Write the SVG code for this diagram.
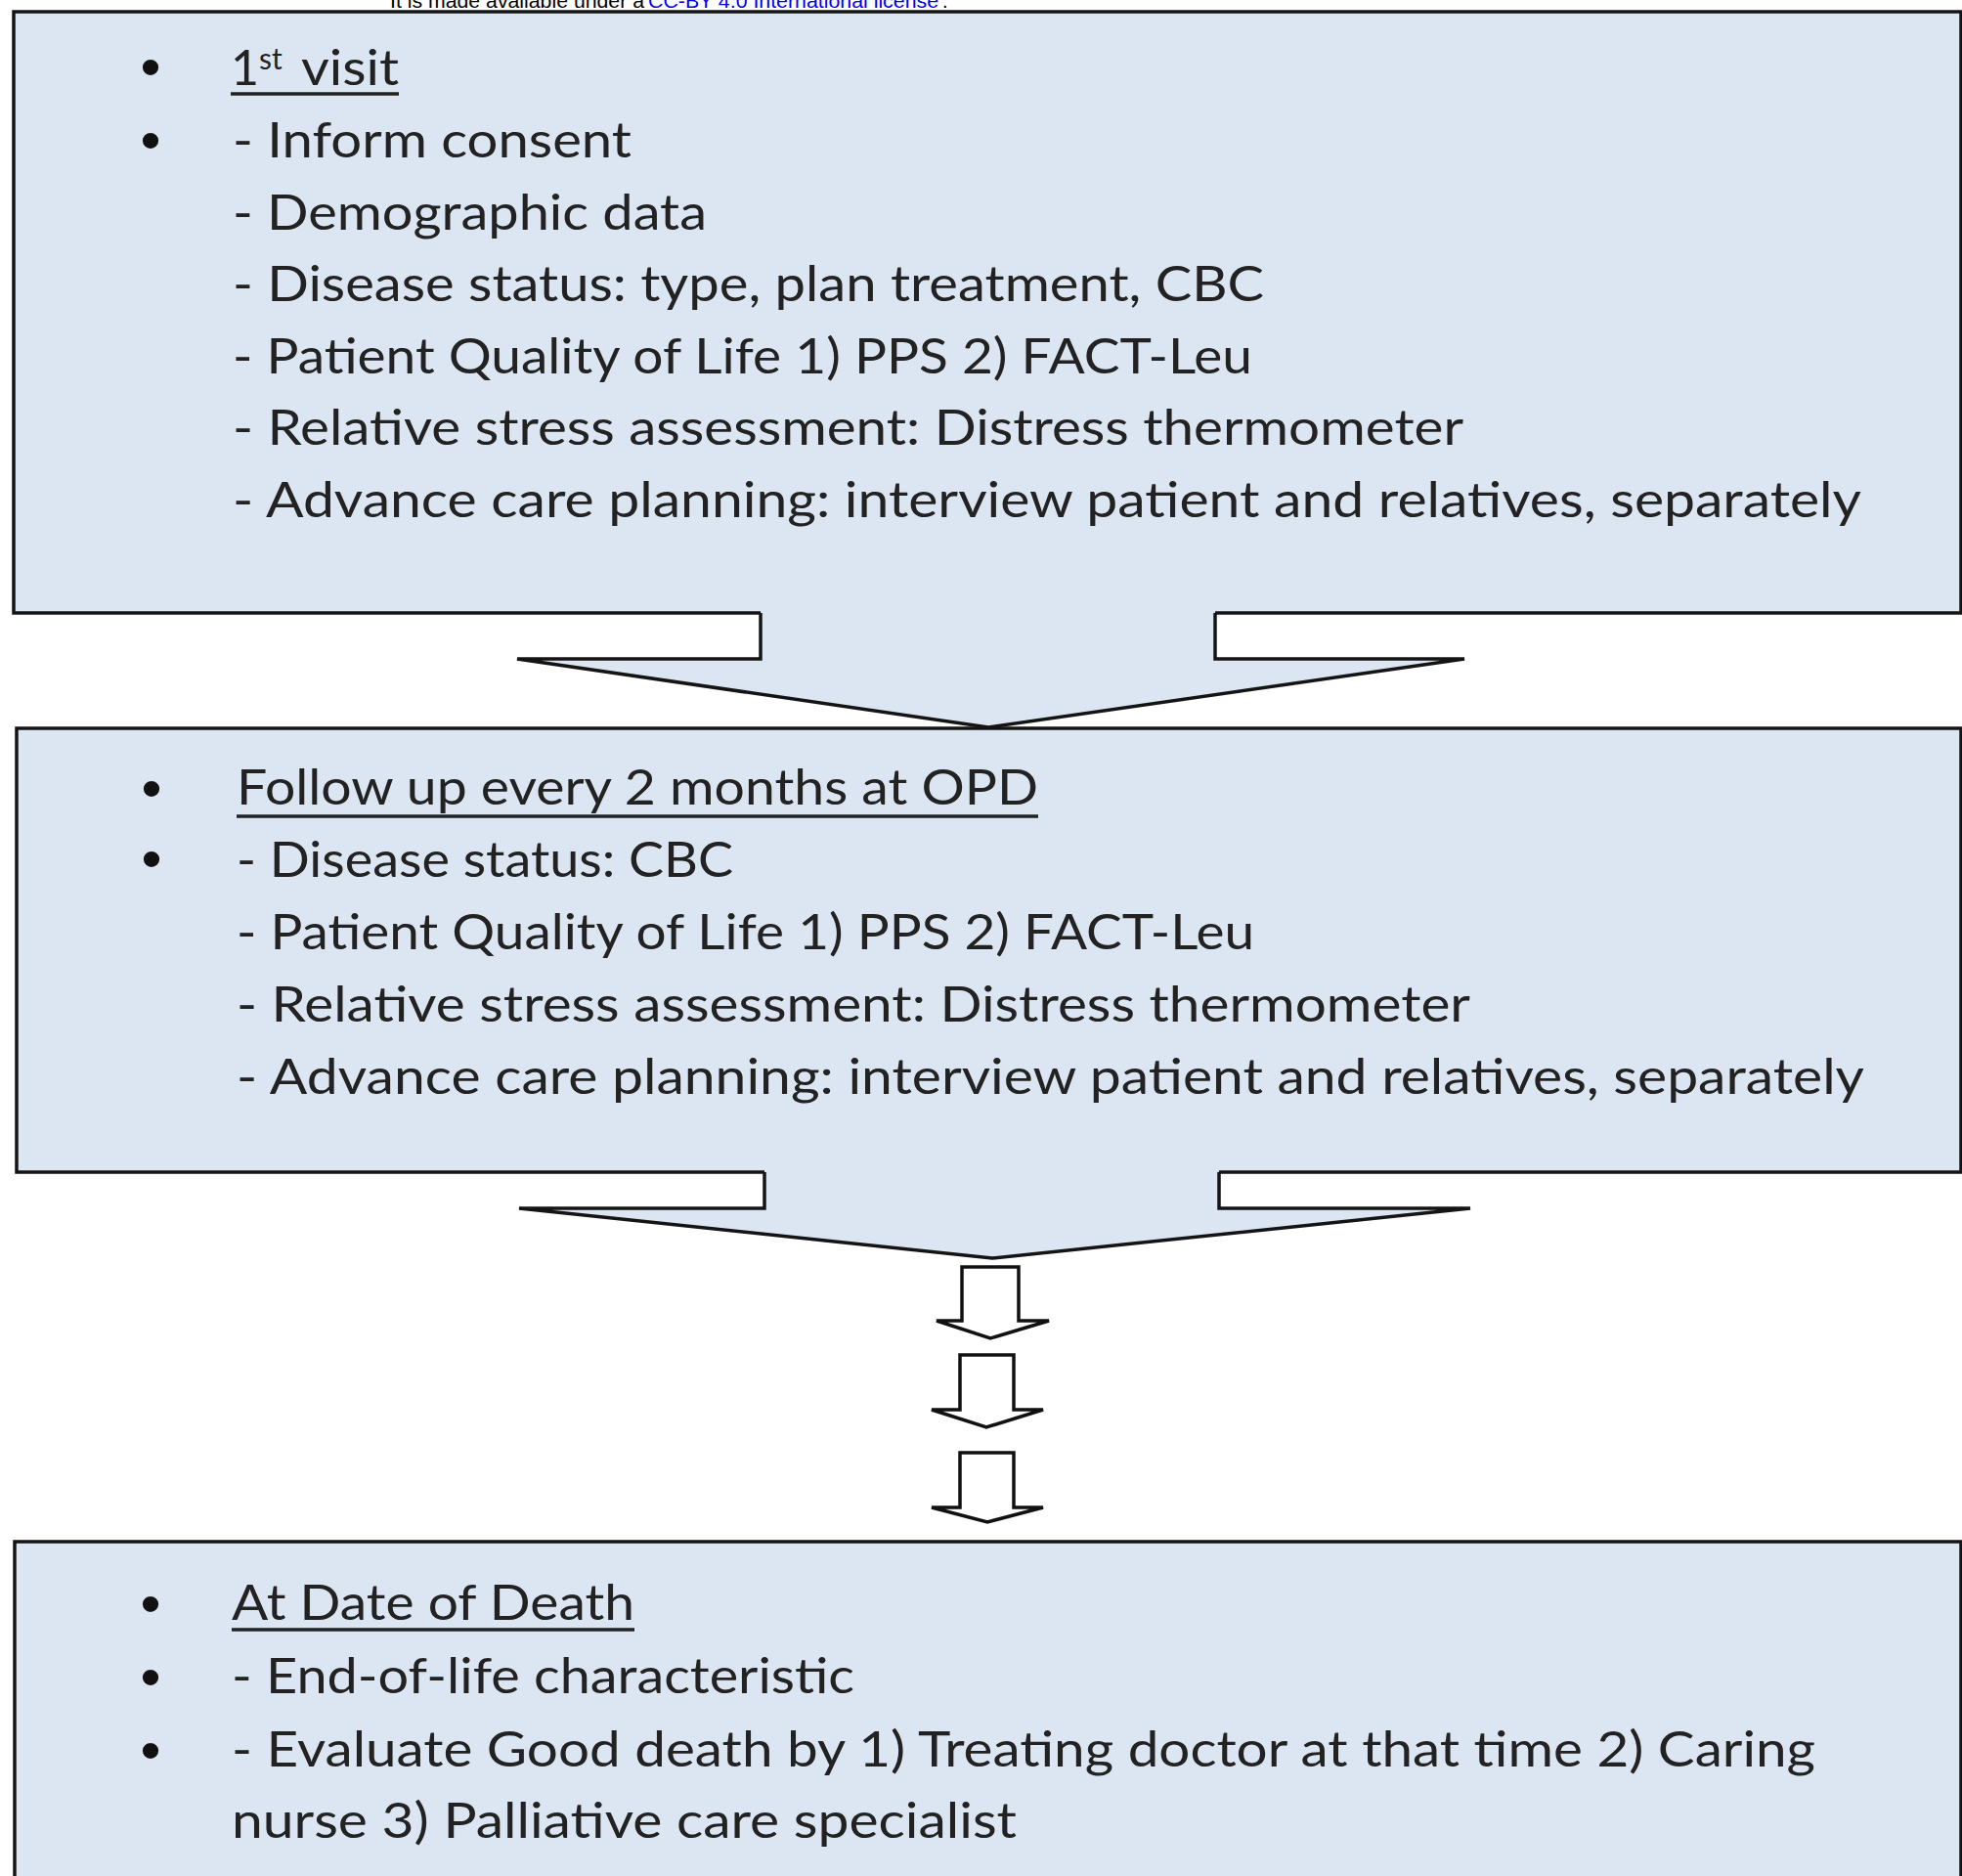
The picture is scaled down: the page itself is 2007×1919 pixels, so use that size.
<svg xmlns="http://www.w3.org/2000/svg" width="2007" height="1919" viewBox="0 0 2007 1919">
<style>
.box{fill:#dce6f2;stroke:#141414;stroke-width:3.5}
.t{font-family:Lato,"Open Sans","Liberation Sans",sans-serif;font-size:50px;fill:#222}
.b{font-family:"Liberation Sans",Arial,sans-serif;font-size:60px;fill:#111;text-anchor:middle}
.ul{stroke:#222;stroke-width:3.5}
.afill{fill:#dce6f2;stroke:none}
.aline{fill:none;stroke:#141414;stroke-width:3.5;stroke-linejoin:miter}
.small{fill:#fff;stroke:#111;stroke-width:3.5;stroke-linejoin:miter}
.hdr{font-family:"Liberation Sans",Arial,sans-serif;font-size:20px;fill:#000}
</style>
<rect width="2007" height="1919" fill="#fff"/>
<g id="header">
<text class="hdr" x="399" y="8" textLength="260" lengthAdjust="spacingAndGlyphs">It is made available under a</text>
<text class="hdr" x="663" y="8" textLength="297" lengthAdjust="spacingAndGlyphs" style="fill:#0000ee">CC-BY 4.0 International license</text>
<text class="hdr" x="964" y="8">.</text>
</g>
<g id="node-first-visit">
<rect class="box" x="14" y="12" width="1992" height="615"/>
<text class="b" x="154" y="89">•</text>
<text class="b" x="154" y="164">•</text>
<text class="t" x="236" y="87">1</text>
<text class="t" x="265" y="71" style="font-size:30px">st</text>
<text class="t" x="308" y="87" textLength="100" lengthAdjust="spacingAndGlyphs">visit</text>
<line class="ul" x1="236" y1="96" x2="408" y2="96"/>
<text class="t" x="238" y="161" textLength="408" lengthAdjust="spacingAndGlyphs">- Inform consent</text>
<text class="t" x="238" y="234.6" textLength="485" lengthAdjust="spacingAndGlyphs">- Demographic data</text>
<text class="t" x="238" y="308" textLength="1055" lengthAdjust="spacingAndGlyphs">- Disease status: type, plan treatment, CBC</text>
<text class="t" x="238" y="381.5" textLength="1043" lengthAdjust="spacingAndGlyphs">- Patient Quality of Life 1) PPS 2) FACT-Leu</text>
<text class="t" x="238" y="455" textLength="1259" lengthAdjust="spacingAndGlyphs">- Relative stress assessment: Distress thermometer</text>
<text class="t" x="238" y="529" textLength="1666" lengthAdjust="spacingAndGlyphs">- Advance care planning: interview patient and relatives, separately</text>
</g>
<g id="node-follow-up">
<rect class="box" x="17" y="745" width="1989" height="454"/>
<text class="b" x="155" y="827">•</text>
<text class="b" x="155" y="899">•</text>
<text class="t" x="242" y="823" textLength="820" lengthAdjust="spacingAndGlyphs">Follow up every 2 months at OPD</text>
<line class="ul" x1="242" y1="835" x2="1062" y2="835"/>
<text class="t" x="242" y="897" textLength="508" lengthAdjust="spacingAndGlyphs">- Disease status: CBC</text>
<text class="t" x="242" y="971" textLength="1041" lengthAdjust="spacingAndGlyphs">- Patient Quality of Life 1) PPS 2) FACT-Leu</text>
<text class="t" x="242" y="1045" textLength="1262" lengthAdjust="spacingAndGlyphs">- Relative stress assessment: Distress thermometer</text>
<text class="t" x="242" y="1119" textLength="1665" lengthAdjust="spacingAndGlyphs">- Advance care planning: interview patient and relatives, separately</text>
</g>
<g id="node-death">
<rect class="box" x="15" y="1577" width="1991" height="400"/>
<text class="b" x="154" y="1661">•</text>
<text class="b" x="154" y="1736">•</text>
<text class="b" x="154" y="1811">•</text>
<text class="t" x="237" y="1657" textLength="412" lengthAdjust="spacingAndGlyphs">At Date of Death</text>
<line class="ul" x1="237" y1="1667" x2="649" y2="1667"/>
<text class="t" x="237" y="1732" textLength="637" lengthAdjust="spacingAndGlyphs">- End-of-life characteristic</text>
<text class="t" x="237" y="1807" textLength="1620" lengthAdjust="spacingAndGlyphs">- Evaluate Good death by 1) Treating doctor at that time 2) Caring</text>
<text class="t" x="237" y="1880" textLength="803" lengthAdjust="spacingAndGlyphs">nurse 3) Palliative care specialist</text>
</g>
<g id="connectors">
<polygon class="afill" points="778,620 778,674 529,674 1011,744 1498,674 1243,674 1243,620"/>
<path class="aline" d="M778,627 L778,674 L529,674 L1011,744 L1498,674 L1243,674 L1243,627"/>
<polygon class="afill" points="782,1192 782,1236 531,1236 1015,1287 1504,1236 1247,1236 1247,1192"/>
<path class="aline" d="M782,1199 L782,1236 L531,1236 L1015,1287 L1504,1236 L1247,1236 L1247,1199"/>
<polygon class="small" points="984,1296 1042,1296 1042,1351 1073,1351 1013,1369 958,1351 984,1351"/>
<polygon class="small" points="982,1386 1037,1386 1037,1442 1067,1442 1009,1460 953,1442 982,1442"/>
<polygon class="small" points="982,1486 1037,1486 1037,1542 1067,1542 1010,1557 953,1542 982,1542"/>
</g>
</svg>
